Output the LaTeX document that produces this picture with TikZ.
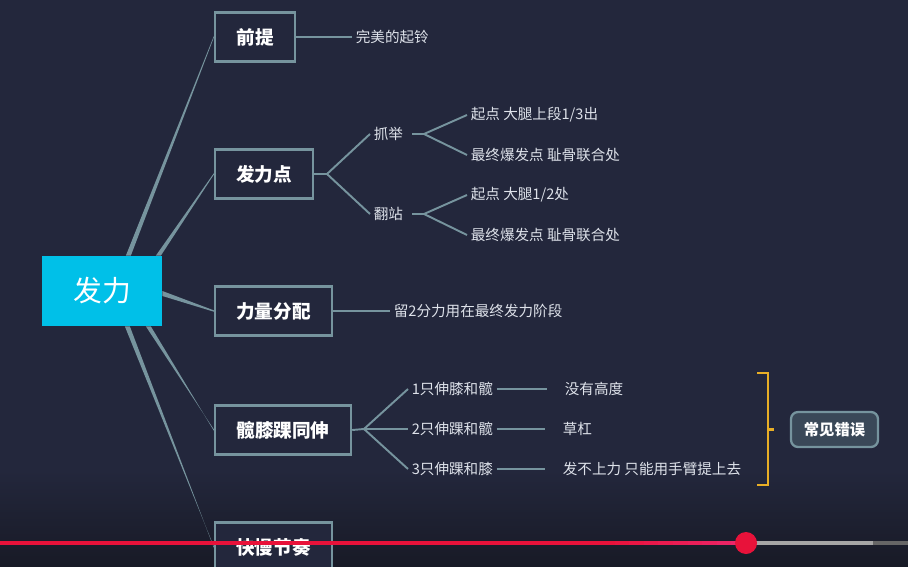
\documentclass[tikz,border=0pt]{standalone}
\usepackage{fontspec}
\setmainfont{Noto Sans CJK SC}
\usepackage{xcolor}
\usetikzlibrary{positioning,calc}
\definecolor{bg}{RGB}{35,39,60}
\definecolor{bgdark}{RGB}{24,26,38}
\definecolor{edge}{RGB}{118,148,158}
\definecolor{rootcyan}{RGB}{0,192,232}
\definecolor{txt}{RGB}{222,226,234}
\definecolor{brk}{RGB}{232,174,38}
\definecolor{tagfill}{RGB}{58,72,88}
\definecolor{barred}{RGB}{232,18,58}
\definecolor{barpink}{RGB}{236,40,110}
\newcommand{\trunk}[2]{\fill[edge] ($(#1)+(-2.5,0)$) -- ($(#1)+(2.5,0)$) -- ($(#2)+(0,0.7)$) -- ($(#2)+(0,-0.7)$) -- cycle;}

\begin{document}
\begin{tikzpicture}[x=0.02cm, y=-0.02cm,
  root/.style={fill=rootcyan, text=white, minimum width=2.4cm, minimum height=1.4cm, inner sep=0pt, font=\fontsize{16.4}{18}\selectfont},
  topic/.style={draw=edge, line width=1.4pt, fill=bg, text=white, minimum height=0.98cm, inner sep=0pt, font=\fontsize{10.6}{12}\selectfont\bfseries},
  leaf/.style={anchor=west, text=txt, inner sep=2pt, font=\fontsize{8.3}{10}\selectfont},
  link/.style={draw=edge, line width=1.1pt},
  tag/.style={draw=edge, line width=1.3pt, fill=tagfill, rounded corners=4pt, text=white, minimum width=1.74cm, minimum height=0.7cm, inner sep=0pt, font=\fontsize{8.7}{10}\selectfont\bfseries}]
\clip (0,0) rectangle (908,567);
\fill[bg] (0,0) rectangle (908,567);
\shade[top color=bg, bottom color=bgdark] (0,470) rectangle (908,567);

% root and main topics
\node[root] (fali) at (102,291) {发力};
\node[topic, minimum width=1.6cm] (qianti) at (255,37) {前提};
\node[topic, minimum width=1.96cm] (fldian) at (264,174) {发力点};
\node[topic, minimum width=2.34cm] (fenpei) at (273.5,311) {力量分配};
\node[topic, minimum width=2.72cm] (tongshen) at (283,430) {髋膝踝同伸};
\node[topic, minimum width=2.34cm] (jiezou) at (273.5,547) {快慢节奏};

\trunk{$(fali.north east)+(-34,0)$}{qianti.west}
\trunk{$(fali.north east)+(-4,0)$}{fldian.west}
\fill[edge] ($(fali.east)+(0,0)$) -- ($(fali.east)+(0,5)$) -- ($(fenpei.west)+(0,0.7)$) -- ($(fenpei.west)+(0,-0.7)$) -- cycle;
\trunk{$(fali.south east)+(-14,0)$}{tongshen.west}
\trunk{$(fali.south east)+(-35,0)$}{jiezou.west}

% 前提
\node[leaf] (qt1) at (352,37) {完美的起铃};
\draw[link] (qianti.east) -- (qt1.west);

% 发力点
\coordinate (fk) at (327,174);
\node[leaf] (zhuaju) at (370,134) {抓举};
\node[leaf] (fanzhan) at (370,214) {翻站};
\draw[link] (fldian.east) -- (fk) -- (zhuaju.west);
\draw[link] (fk) -- (fanzhan.west);
\coordinate (zk) at (424,134);
\coordinate (fz) at (424,214);
\node[leaf] (zq1) at (467,115) {起点 大腿上段1/3出};
\node[leaf] (zq2) at (467,155) {最终爆发点 耻骨联合处};
\node[leaf] (fq1) at (467,195) {起点 大腿1/2处};
\node[leaf] (fq2) at (467,235) {最终爆发点 耻骨联合处};
\draw[link] ([xshift=3pt]zhuaju.east) -- (zk) -- (zq1.west);
\draw[link] (zk) -- (zq2.west);
\draw[link] ([xshift=3pt]fanzhan.east) -- (fz) -- (fq1.west);
\draw[link] (fz) -- (fq2.west);

% 力量分配
\node[leaf] (fp1) at (390,311) {留2分力用在最终发力阶段};
\draw[link] (fenpei.east) -- (fp1.west);

% 髋膝踝同伸
\coordinate (tk) at (364,429);
\node[leaf] (c1) at (408,389) {1只伸膝和髋};
\node[leaf] (c2) at (408,429) {2只伸踝和髋};
\node[leaf] (c3) at (408,469) {3只伸踝和膝};
\draw[link] (tongshen.east) -- (tk) -- (c1.west);
\draw[link] (tk) -- (c2.west);
\draw[link] (tk) -- (c3.west);
\node[leaf] (e1) at (561,389) {没有高度};
\node[leaf] (e2) at (559,429) {草杠};
\node[leaf] (e3) at (559,469) {发不上力 只能用手臂提上去};
\draw[link] (c1.east) -- ([xshift=-8pt]e1.west);
\draw[link] (c2.east) -- ([xshift=-8pt]e2.west);
\draw[link] (c3.east) -- ([xshift=-8pt]e3.west);

% 常见错误
\node[tag] (cuowu) at (834.5,429.5) {常见错误};
\coordinate (bt) at (768,373);
\coordinate (bb) at (768,485);
\draw[brk, line width=1.4pt] ($(bt)+(-11,0)$) -- (bt) -- (bb) -- ($(bb)+(-11,0)$);
\draw[brk, line width=1.4pt] (bt |- cuowu.west) -- ++(6,0);

% player bar
\fill[barred] (0,541) rectangle (600,545);
\foreach \i in {0,...,9}
  \pgfmathsetmacro{\p}{\i*10}
  \fill[barpink!\p!barred] (600+14.6*\i,541) rectangle (600+14.6*\i+15,545);
\fill[black!35!white] (746,541) rectangle (873,545);
\fill[black!60!white] (873,541) rectangle (908,545);
\fill[barred] (746,543) circle[radius=11];
\end{tikzpicture}
\end{document}
